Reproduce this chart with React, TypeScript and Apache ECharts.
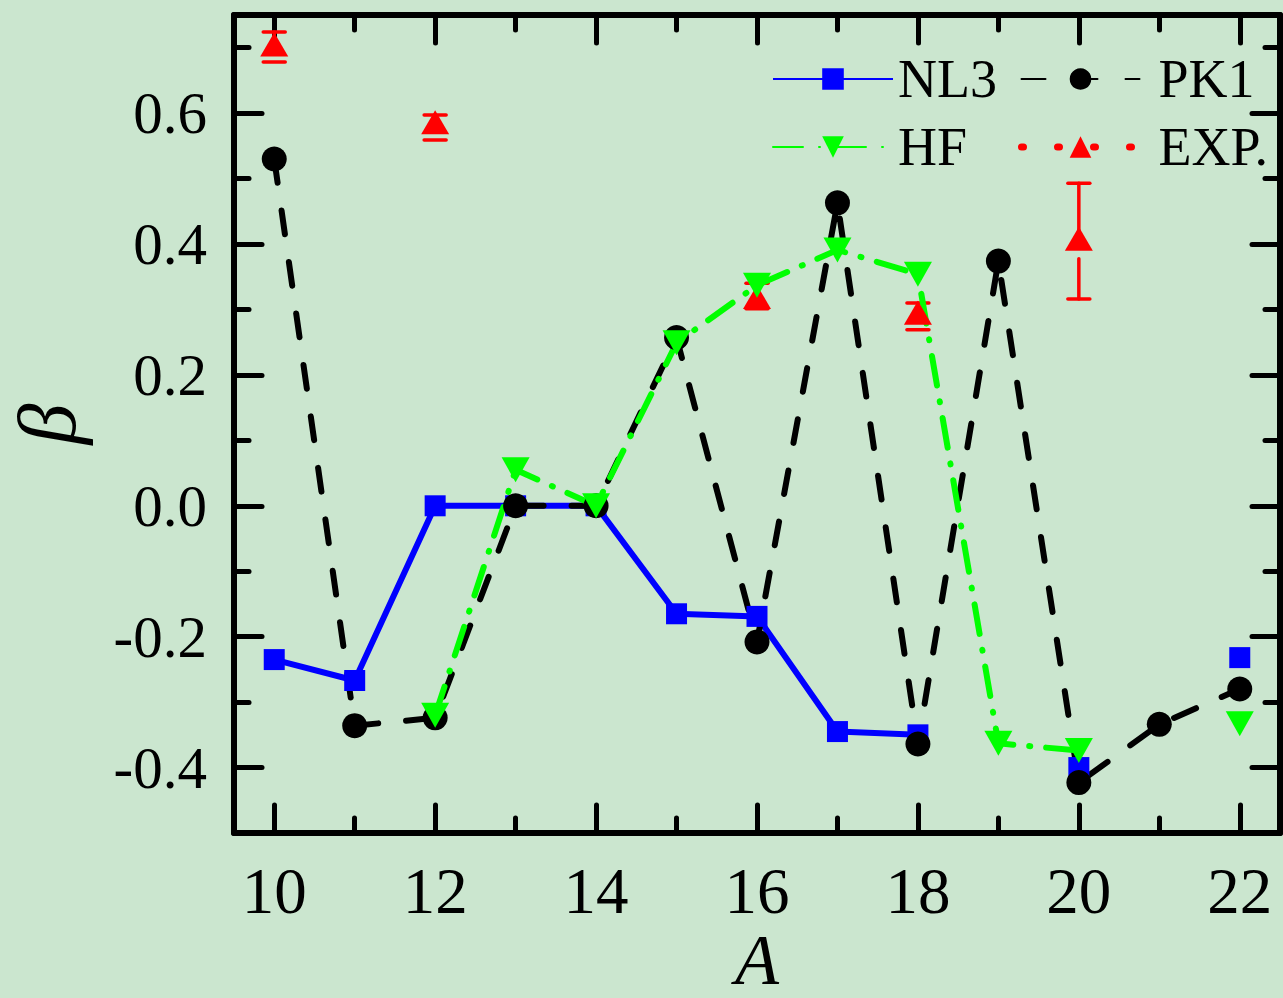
import React, { useEffect, useRef } from "react";
import * as echarts from "echarts";

// Quadrupole deformation beta versus mass number A
const massNumbers = [10, 11, 12, 13, 14, 15, 16, 17, 18, 19, 20, 21, 22];
const nl3Beta = [-0.235, -0.267, 0, 0, 0, -0.165, -0.169, -0.345, -0.35, null, -0.4, null, -0.232];
const pk1Beta = [0.53, -0.336, -0.324, 0, 0, 0.257, -0.208, 0.463, -0.364, 0.374, -0.423, -0.334, -0.28];
const hfBeta = [null, null, -0.32, 0.055, 0, 0.249, 0.337, 0.391, 0.354, -0.363, -0.374, null, -0.333];

const expMass = [10, 12, 16, 18, 20];
const expBeta = [0.705, 0.586, 0.319, 0.295, 0.408];
const expLow = [0.678, 0.559, 0.301, 0.269, 0.316];
const expHigh = [0.724, 0.597, 0.34, 0.31, 0.493];

const xMajorTicks = [10, 12, 14, 16, 18, 20, 22];
const xMinorTicks = [11, 13, 15, 17, 19, 21];
const yMajorTicks = [-0.4, -0.2, 0, 0.2, 0.4, 0.6];
const yMinorTicks = [-0.3, -0.1, 0.1, 0.3, 0.5, 0.7];

const X_MIN = 9.5;
const X_MAX = 22.5;
const Y_MIN = -0.5;
const Y_MAX = 0.75;

const FONT = "Liberation Serif";
const BG = "#cbe6cf";

const toPairs = (ys: (number | null)[]) =>
  massNumbers.map((a, i) => [a, ys[i] === null ? "-" : ys[i]]);

const spine = { show: true, onZero: false, lineStyle: { color: "#000", width: 6 } };
const noSpine = { show: false, onZero: false };
const tickStyle = { color: "#000", width: 5, cap: "round" };

function frameAxis(
  position: string,
  min: number,
  max: number,
  ticks: number[],
  length: number,
  withLine: boolean,
  extra: any = {}
) {
  return {
    type: "value",
    position,
    min,
    max,
    axisLine: withLine ? spine : noSpine,
    axisTick: { show: true, inside: true, length, customValues: ticks, lineStyle: tickStyle },
    axisLabel: { show: false },
    splitLine: { show: false },
    ...extra,
  };
}

const option: any = {
  animation: false,
  backgroundColor: BG,
  grid: { left: 234, right: 3, top: 15, bottom: 165, outerBoundsMode: "none", containLabel: false },
  xAxis: [
    frameAxis("bottom", X_MIN, X_MAX, xMajorTicks, 28, true, {
      axisLabel: {
        show: true,
        customValues: xMajorTicks,
        fontFamily: FONT,
        fontSize: 65,
        lineHeight: 58,
        color: "#000",
        margin: 29,
      },
      name: "A",
      nameLocation: "middle",
      nameGap: 92,
      nameMoveOverlap: false,
      nameTextStyle: {
        fontFamily: FONT,
        fontStyle: "italic",
        fontSize: 72,
        lineHeight: 70,
        color: "#000",
      },
    }),
    frameAxis("bottom", X_MIN, X_MAX, xMinorTicks, 15, false),
    frameAxis("top", X_MIN, X_MAX, xMajorTicks, 28, true),
    frameAxis("top", X_MIN, X_MAX, xMinorTicks, 15, false),
  ],
  yAxis: [
    frameAxis("left", Y_MIN, Y_MAX, yMajorTicks, 28, true, {
      axisLabel: {
        show: true,
        customValues: yMajorTicks,
        formatter: (v: number) => v.toFixed(1),
        fontFamily: FONT,
        fontSize: 59,
        color: "#000",
        margin: 27,
      },
      name: "β",
      nameLocation: "middle",
      nameGap: 146,
      nameMoveOverlap: false,
      nameTextStyle: { fontFamily: FONT, fontStyle: "italic", fontSize: 82, color: "#000" },
    }),
    frameAxis("left", Y_MIN, Y_MAX, yMinorTicks, 15, false),
    frameAxis("right", Y_MIN, Y_MAX, yMajorTicks, 28, true),
    frameAxis("right", Y_MIN, Y_MAX, yMinorTicks, 15, false),
  ],
  legend: [
    {
      orient: "vertical",
      left: 767,
      top: 47,
      itemWidth: 120,
      itemHeight: 27,
      itemGap: 14,
      selectedMode: false,
      data: [{ name: "NL3" }, { name: "HF" }],
      textStyle: { fontFamily: FONT, fontSize: 54, lineHeight: 52, color: "#000" },
    },
    {
      orient: "vertical",
      left: 1013,
      top: 47,
      itemWidth: 118,
      itemHeight: 27,
      itemGap: 14,
      selectedMode: false,
      data: [
        { name: "PK1" },
        {
          name: "EXP.",
          lineStyle: { color: "#ff0000", width: 7, type: [2, 34], cap: "round", opacity: 1 },
        },
      ],
      textStyle: {
        fontFamily: FONT,
        fontSize: 54,
        lineHeight: 52,
        color: "#000",
        padding: [0, 0, 0, 14],
      },
    },
  ],
  series: [
    {
      name: "NL3",
      type: "line",
      xAxisIndex: 0,
      yAxisIndex: 0,
      data: toPairs(nl3Beta),
      connectNulls: false,
      showAllSymbol: true,
      symbol: "rect",
      symbolSize: 21,
      lineStyle: { color: "#0000ff", width: 6 },
      itemStyle: { color: "#0000ff" },
    },
    {
      name: "PK1",
      type: "line",
      xAxisIndex: 0,
      yAxisIndex: 0,
      data: toPairs(pk1Beta),
      showAllSymbol: true,
      symbol: "circle",
      symbolSize: 25,
      lineStyle: { color: "#000", width: 6, type: [24, 28], cap: "round" },
      itemStyle: { color: "#000" },
    },
    {
      name: "EXP. error",
      type: "custom",
      xAxisIndex: 0,
      yAxisIndex: 0,
      silent: true,
      data: expMass.map((a, i) => [a, expLow[i], expHigh[i], expBeta[i]]),
      renderItem: (_params: any, api: any) => {
        const x = api.value(0);
        const low = api.coord([x, api.value(1)]);
        const high = api.coord([x, api.value(2)]);
        const mid = api.coord([x, api.value(3)]);
        const cap = 11;
        const style = { stroke: "#ff0000", lineWidth: 3.5, lineCap: "round" };
        const children: any[] = [
          { type: "line", shape: { x1: high[0] - cap, y1: high[1], x2: high[0] + cap, y2: high[1] }, style },
          { type: "line", shape: { x1: low[0] - cap, y1: low[1], x2: low[0] + cap, y2: low[1] }, style },
        ];
        if (mid[1] > high[1]) {
          children.push({ type: "line", shape: { x1: high[0], y1: high[1], x2: mid[0], y2: mid[1] }, style });
        }
        const gapEnd = mid[1] + 20;
        if (low[1] > gapEnd) {
          children.push({ type: "line", shape: { x1: mid[0], y1: gapEnd, x2: low[0], y2: low[1] }, style });
        }
        return { type: "group", children };
      },
    },
    {
      name: "EXP.",
      type: "line",
      xAxisIndex: 0,
      yAxisIndex: 0,
      data: expMass.map((a, i) => [a, expBeta[i]]),
      showAllSymbol: true,
      symbol: "triangle",
      symbolSize: [28, 24],
      lineStyle: { color: "#ff0000", width: 7, type: [2, 34], cap: "round", opacity: 0 },
      itemStyle: { color: "#ff0000" },
    },
    {
      name: "HF",
      type: "line",
      xAxisIndex: 0,
      yAxisIndex: 0,
      data: toPairs(hfBeta),
      connectNulls: false,
      showAllSymbol: true,
      symbol: "triangle",
      symbolRotate: 180,
      symbolSize: [28, 25],
      lineStyle: { color: "#00ff00", width: 6, type: [30, 16, 1, 16], cap: "round" },
      itemStyle: { color: "#00ff00" },
    },
  ],
};

export default function App() {
  const ref = useRef<HTMLDivElement>(null);
  useEffect(() => {
    const chart = echarts.init(ref.current as HTMLDivElement, null, { renderer: "svg" });
    chart.setOption(option);
    return () => chart.dispose();
  }, []);
  return (
    <div
      ref={ref}
      style={{ position: "fixed", left: 0, top: 0, width: 1283, height: 998 }}
    />
  );
}
